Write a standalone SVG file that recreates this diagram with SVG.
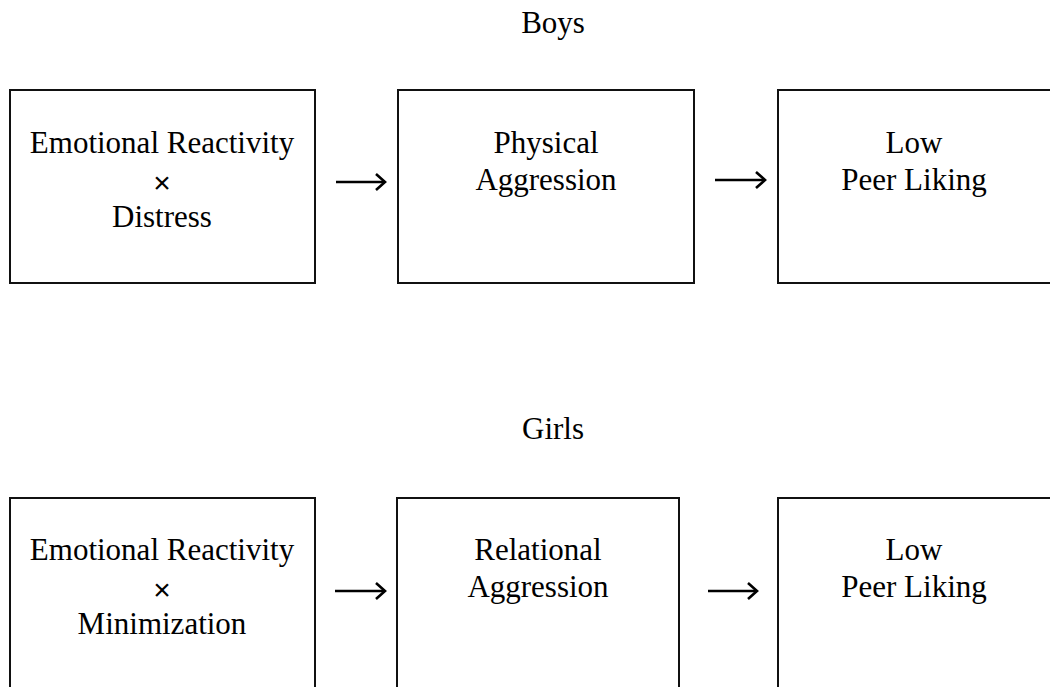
<svg xmlns="http://www.w3.org/2000/svg" width="1050" height="687" viewBox="0 0 1050 687">
  <style>
    .box { fill: #ffffff; stroke: #111111; stroke-width: 2; }
    .t { font-family: "Liberation Serif", "Times New Roman", serif; font-size: 31px; fill: #000000; text-anchor: middle; }
    .x { font-family: "Liberation Sans", Arial, sans-serif; font-size: 30px; fill: #000000; text-anchor: middle; }
    .arr { fill: none; stroke: #000000; stroke-width: 2.4; }
  </style>
  <defs>
    <marker id="head" markerUnits="userSpaceOnUse" markerWidth="14" markerHeight="20" refX="11" refY="9" orient="auto">
      <path d="M2,1 L11,9 L2,17" fill="none" stroke="#000" stroke-width="2.6"/>
    </marker>
  </defs>
  <rect width="1050" height="687" fill="#ffffff"/>

  <text class="t" x="553" y="33">Boys</text>
  <text class="t" x="553" y="439">Girls</text>

  <g id="boys-er-distress">
    <rect class="box" x="10" y="90" width="305" height="193"/>
    <text class="t" x="162" y="153">Emotional Reactivity</text>
    <text class="x" x="162" y="193">×</text>
    <text class="t" x="162" y="227">Distress</text>
  </g>
  <g id="boys-physical-aggression">
    <rect class="box" x="398" y="90" width="296" height="193"/>
    <text class="t" x="546" y="153">Physical</text>
    <text class="t" x="546" y="190">Aggression</text>
  </g>
  <g id="boys-low-peer-liking">
    <rect class="box" x="778" y="90" width="285" height="193"/>
    <text class="t" x="914" y="153">Low</text>
    <text class="t" x="914" y="190">Peer Liking</text>
  </g>

  <g id="girls-er-minimization">
    <rect class="box" x="10" y="498" width="305" height="210"/>
    <text class="t" x="162" y="560">Emotional Reactivity</text>
    <text class="x" x="162" y="600">×</text>
    <text class="t" x="162" y="634">Minimization</text>
  </g>
  <g id="girls-relational-aggression">
    <rect class="box" x="397" y="498" width="282" height="210"/>
    <text class="t" x="538" y="560">Relational</text>
    <text class="t" x="538" y="597">Aggression</text>
  </g>
  <g id="girls-low-peer-liking">
    <rect class="box" x="778" y="498" width="285" height="210"/>
    <text class="t" x="914" y="560">Low</text>
    <text class="t" x="914" y="597">Peer Liking</text>
  </g>

  <g id="connectors">
    <line class="arr" x1="336" y1="182" x2="385" y2="182" marker-end="url(#head)"/>
    <line class="arr" x1="715" y1="180" x2="765" y2="180" marker-end="url(#head)"/>
    <line class="arr" x1="335" y1="591" x2="385" y2="591" marker-end="url(#head)"/>
    <line class="arr" x1="708" y1="591" x2="757" y2="591" marker-end="url(#head)"/>
  </g>
</svg>
